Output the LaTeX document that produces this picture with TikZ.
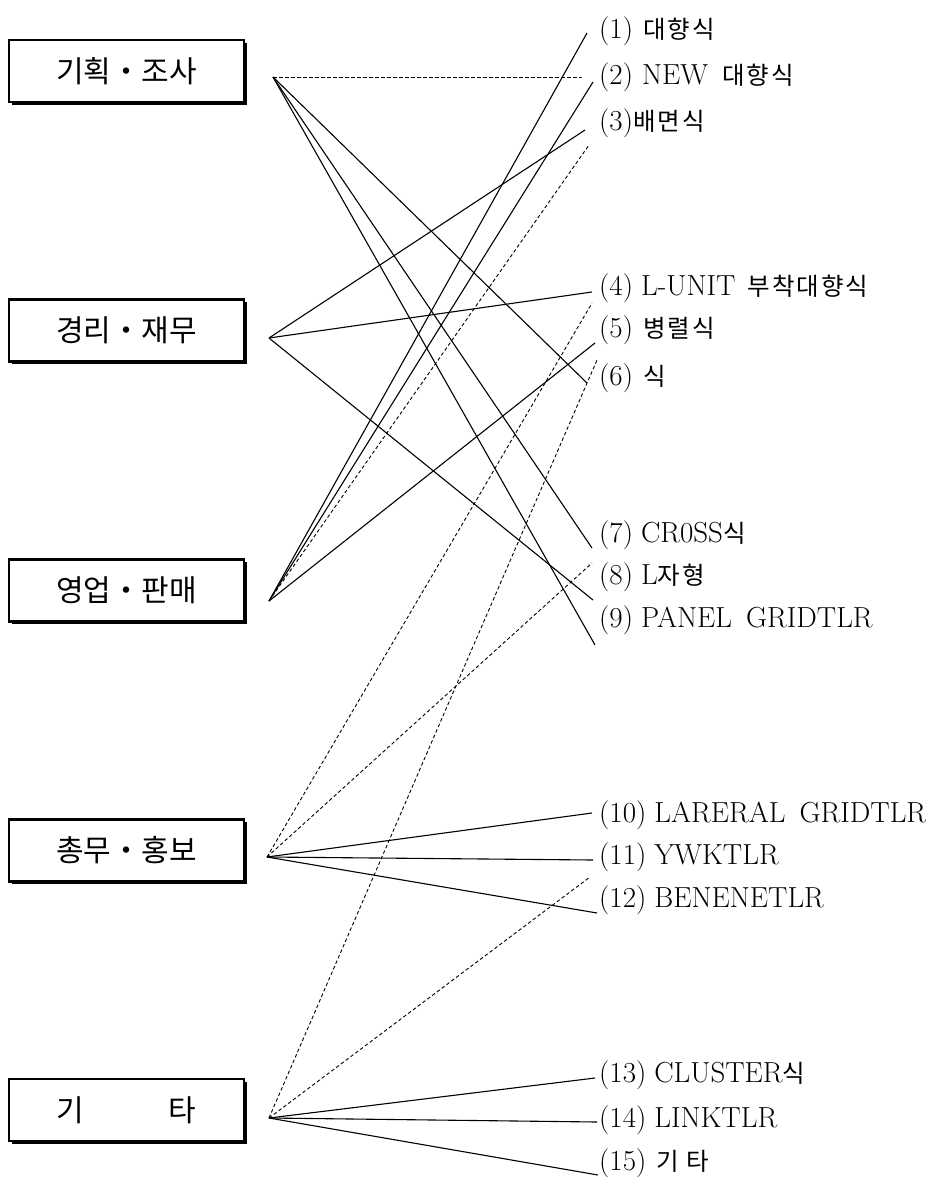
\documentclass[tikz,border=0pt]{standalone}
\usepackage{fontspec}
\newfontfamily\kr{Noto Sans CJK KR}
\newfontfamily\krl[LetterSpace=8]{Noto Sans CJK KR}
\usetikzlibrary{shadows}
\newcommand\ko[1]{{\krl\fontsize{24.5}{28}\selectfont #1}}
\begin{document}
\begin{tikzpicture}[x=1pt,y=-1pt,
  catbox/.style={draw, line width=2.2pt, fill=white, minimum width=235pt, minimum height=62pt,
    inner sep=0pt, font=\kr\fontsize{30}{36}\selectfont,
    drop shadow={shadow xshift=2.5pt, shadow yshift=-2.5pt, fill=black, opacity=1}},
  lbl/.style={anchor=west, inner sep=0pt, font=\fontsize{29}{33}\selectfont},
  con/.style={line width=1.1pt},
  dcon/.style={line width=0.9pt, dash pattern=on 3.5pt off 2.5pt},
]
\useasboundingbox (0,0) rectangle (936,1184);

% category boxes
\node[catbox] (b1) at (126.5,71) {기획・조사};
\node[catbox] (b2) at (126.5,330.5) {경리・재무};
\node[catbox] (b3) at (126.5,590.5) {영업・판매};
\node[catbox] (b4) at (126.5,850.5) {총무・홍보};
\node[catbox] (b5) at (126.5,1110) {기\hspace{85pt}타};

% source points
\coordinate (s1) at (273,77);
\coordinate (s2) at (269,338);
\coordinate (s3) at (269,601);
\coordinate (s4) at (267,857);
\coordinate (s5) at (269,1118);

% labels
\node[lbl] (l1) at (599,31) {(1)\hspace{10pt}\ko{대향식}};
\node[lbl] (l2) at (599,77) {(2)\hspace{9pt}NEW\hspace{14pt}\ko{대향식}};
\node[lbl] (l3) at (599,123) {(3)\ko{배면식}};
\node[lbl] (l4) at (599,288) {(4)\hspace{8pt}L-UNIT\hspace{12pt}\ko{부착대향식}};
\node[lbl] (l5) at (599,330) {(5)\hspace{10pt}\ko{병렬식}};
\node[lbl] (l6) at (599,378) {(6)\hspace{10pt}\ko{식}};
\node[lbl] (l7) at (599,535) {(7)\hspace{8pt}CR0SS\ko{식}};
\node[lbl] (l8) at (599,577) {(8)\hspace{8pt}L\ko{자형}};
\node[lbl] (l9) at (599,620) {(9)\hspace{8pt}PANEL\hspace{14pt}GRIDTLR};
\node[lbl] (l10) at (599,815) {(10)\hspace{8pt}LARERAL\hspace{14pt}GRIDTLR};
\node[lbl] (l11) at (599,857) {(11)\hspace{8pt}YWKTLR};
\node[lbl] (l12) at (599,900) {(12)\hspace{8pt}BENENETLR};
\node[lbl] (l13) at (599,1075) {(13)\hspace{8pt}CLUSTER\ko{식}};
\node[lbl] (l14) at (599,1120) {(14)\hspace{8pt}LINKTLR};
\node[lbl] (l15) at (599,1163) {(15)\hspace{10pt}\ko{기\hspace{8pt}타}};

% connector end points near labels
\coordinate (e1) at (587,33);
\coordinate (e2d) at (582,77);
\coordinate (e2) at (593,82);
\coordinate (e3) at (585,130);
\coordinate (e3d) at (589,145);
\coordinate (e4) at (592,292);
\coordinate (e4d) at (592,303);
\coordinate (e5) at (595,343);
\coordinate (e5d) at (597,360);
\coordinate (e6) at (587,383);
\coordinate (e7) at (592,548);
\coordinate (e8d) at (592,563);
\coordinate (e8) at (593,600);
\coordinate (e9) at (595,645);
\coordinate (e10) at (592,813);
\coordinate (e11) at (593,860);
\coordinate (e11d) at (590,877);
\coordinate (e12) at (597,913);
\coordinate (e13) at (595,1078);
\coordinate (e14) at (597,1122);
\coordinate (e15) at (598,1175);

% connectors
\draw[dcon] (s1) -- (e2d);
\draw[con] (s1) -- (e6);
\draw[con] (s1) -- (e7);
\draw[con] (s1) -- (e9);

\draw[con] (s2) -- (e3);
\draw[con] (s2) -- (e4);
\draw[con] (s2) -- (e8);

\draw[con] (s3) -- (e1);
\draw[con] (s3) -- (e2);
\draw[dcon] (s3) -- (e3d);
\draw[con] (s3) -- (e5);

\draw[dcon] (s4) -- (e4d);
\draw[dcon] (s4) -- (e8d);
\draw[con] (s4) -- (e10);
\draw[con] (s4) -- (e11);
\draw[con] (s4) -- (e12);

\draw[dcon] (s5) -- (e5d);
\draw[dcon] (s5) -- (e11d);
\draw[con] (s5) -- (e13);
\draw[con] (s5) -- (e14);
\draw[con] (s5) -- (e15);
\end{tikzpicture}
\end{document}
